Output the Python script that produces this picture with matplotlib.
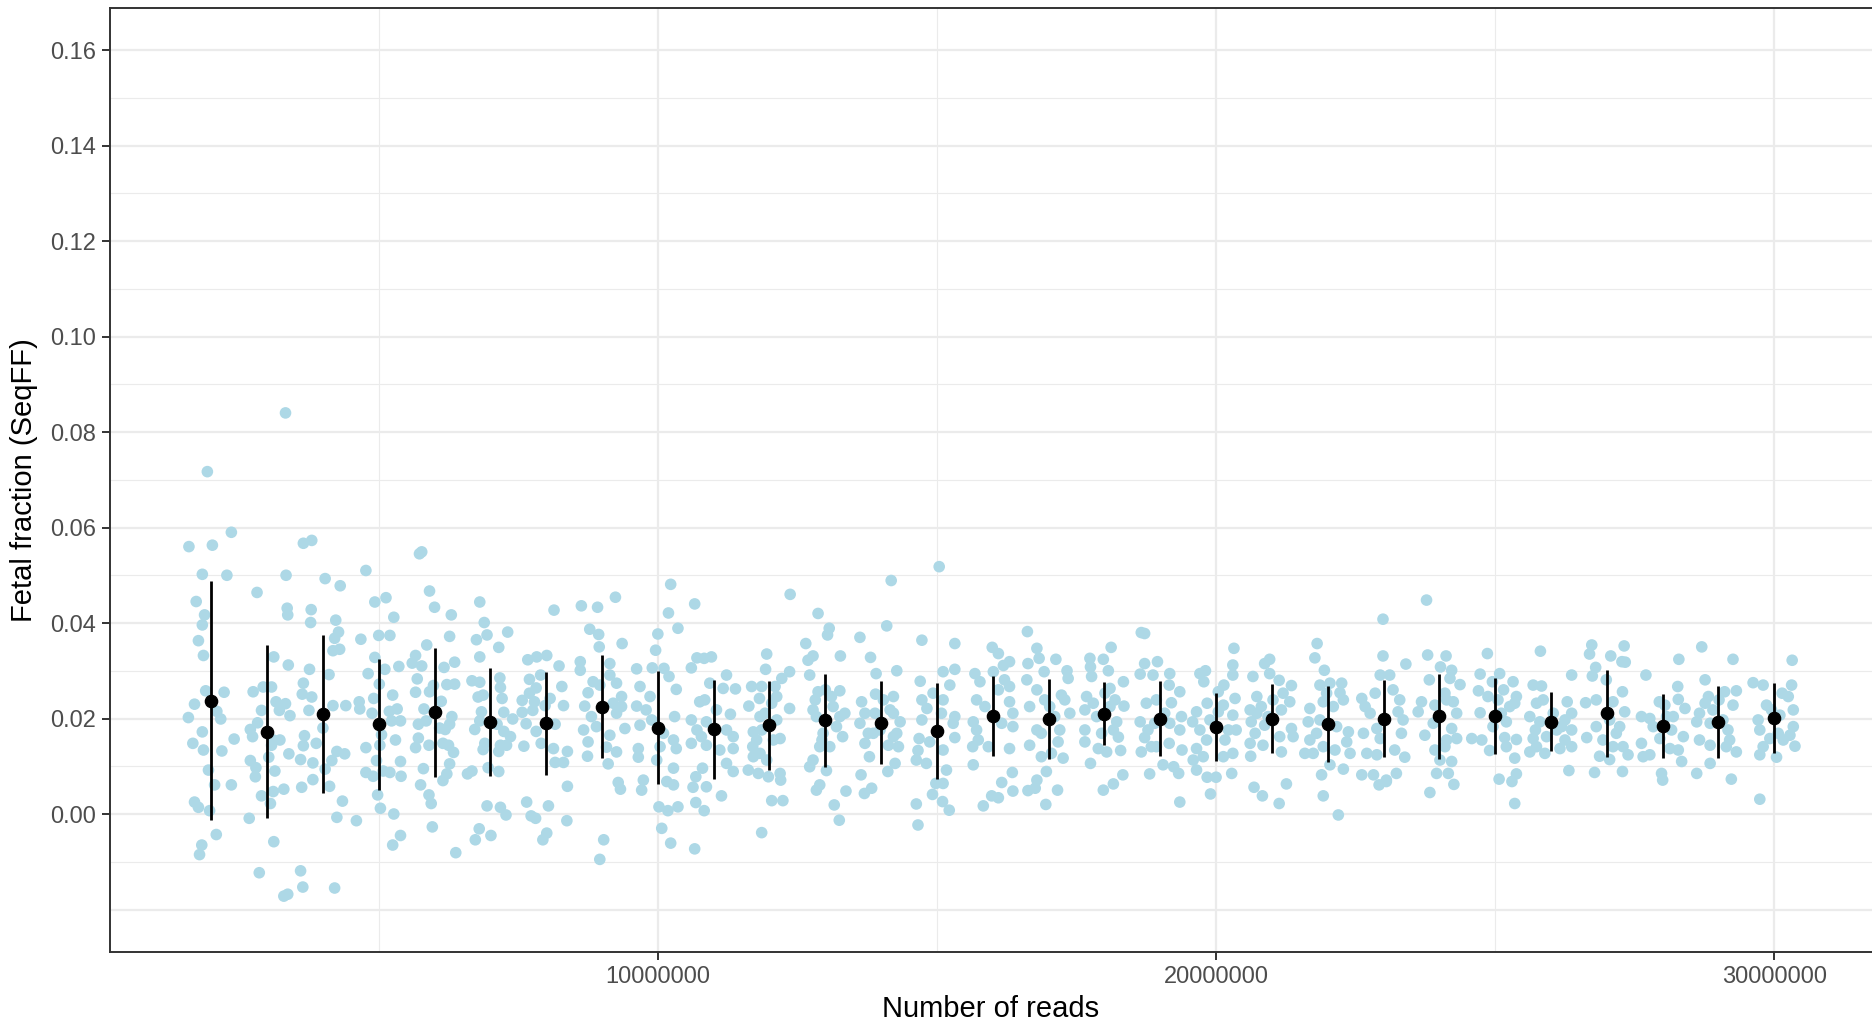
import numpy as np
from matplotlib import pyplot as plt

# Read depth groups (millions of reads)
reads_m = list(range(2, 31))

# Group mean and standard deviation of the fetal fraction
mean_ff = [0.0237, 0.0172, 0.0209, 0.0188, 0.0213, 0.0193, 0.0190, 0.0225, 0.0181, 0.0177,
           0.0186, 0.0196, 0.0191, 0.0174, 0.0205, 0.0199, 0.0210, 0.0200, 0.0182, 0.0200,
           0.0189, 0.0200, 0.0205, 0.0205, 0.0193, 0.0211, 0.0185, 0.0193, 0.0201]
sd_ff = [0.0250, 0.0181, 0.0166, 0.0137, 0.0135, 0.0113, 0.0108, 0.0107, 0.0119, 0.0104,
         0.0093, 0.0098, 0.0087, 0.0100, 0.0084, 0.0084, 0.0066, 0.0078, 0.0071, 0.0073,
         0.0080, 0.0081, 0.0089, 0.0080, 0.0062, 0.0091, 0.0067, 0.0075, 0.0074]

# Individual samples per group: horizontal jitter (millions) and SeqFF value
ff_jitter = [
    [-0.07, -0.40, 0.02, 0.36, -0.16, 0.28, -0.27, -0.12, -0.16, -0.23, -0.14, -0.10, 0.23, -0.30, 0.10, -0.41, 0.17, -0.16, 0.41, -0.33, -0.14, 0.19, -0.05, 0.06, 0.36, -0.30, -0.23, -0.03, 0.09, -0.17, -0.21],
    [0.33, -0.18, 0.34, 0.36, 0.37, 0.12, 0.38, -0.25, -0.07, 0.08, -0.10, 0.16, 0.33, 0.41, 0.22, -0.17, -0.30, -0.26, 0.11, 0.23, 0.08, 0.39, -0.30, -0.20, 0.03, 0.14, -0.21, 0.30, 0.11, -0.10, 0.06, -0.32, 0.12, -0.14, 0.30, 0.37],
    [-0.35, -0.20, 0.04, 0.31, -0.21, -0.22, 0.23, 0.28, 0.21, 0.18, 0.30, -0.24, 0.11, -0.35, -0.37, -0.20, -0.25, 0.18, 0.41, 0.00, -0.33, -0.12, -0.35, 0.25, 0.39, -0.40, -0.18, 0.16, 0.04, -0.18, -0.38, 0.12, 0.35, 0.25, -0.40, -0.36, 0.21],
    [-0.23, -0.07, 0.13, 0.27, -0.32, 0.00, 0.20, -0.07, 0.11, 0.36, -0.19, 0.01, -0.09, 0.25, -0.35, -0.34, 0.19, 0.33, -0.12, 0.23, 0.39, 0.05, 0.30, -0.23, 0.02, -0.04, 0.39, -0.23, -0.10, 0.08, 0.20, 0.40, -0.40, -0.02, 0.03, 0.27, 0.39, 0.25],
    [-0.27, -0.23, -0.09, 0.00, 0.30, 0.27, -0.14, -0.34, -0.40, -0.23, 0.17, 0.36, -0.31, -0.02, 0.22, 0.36, -0.34, -0.09, 0.12, -0.19, -0.15, -0.29, 0.31, 0.09, 0.27, 0.19, -0.29, -0.34, -0.10, 0.15, 0.25, 0.34, 0.27, -0.20, 0.22, 0.15, -0.25, -0.10, -0.06, -0.04, 0.38],
    [-0.19, -0.11, -0.06, 0.31, -0.25, 0.15, -0.19, 0.17, -0.33, -0.19, 0.18, -0.13, -0.22, 0.21, -0.16, 0.24, 0.40, -0.19, 0.12, -0.28, 0.24, 0.36, -0.10, 0.18, -0.13, 0.15, 0.29, -0.41, -0.33, -0.04, 0.15, -0.06, 0.18, 0.28, -0.20, -0.27, 0.01],
    [0.14, -0.33, -0.17, 0.01, 0.23, -0.10, 0.28, -0.30, -0.18, -0.30, -0.43, -0.21, 0.07, 0.31, -0.43, -0.24, -0.02, -0.36, 0.16, -0.18, -0.40, -0.09, 0.13, 0.38, 0.16, 0.31, 0.38, -0.35, 0.04, -0.27, -0.19, 0.01, -0.06, 0.37],
    [-0.37, -0.08, 0.24, -0.22, -0.06, 0.36, -0.05, -0.39, 0.14, -0.39, -0.16, 0.14, 0.26, -0.25, -0.04, 0.35, -0.31, 0.20, 0.35, -0.19, 0.26, 0.41, -0.10, 0.14, -0.33, -0.25, 0.08, 0.26, -0.26, 0.11, 0.29, 0.33, 0.03, -0.04],
    [0.23, 0.19, 0.36, 0.00, -0.04, -0.38, -0.10, 0.11, 0.20, 0.33, -0.32, -0.14, -0.38, -0.21, -0.11, -0.32, 0.30, 0.10, 0.28, 0.04, 0.33, -0.35, -0.35, -0.02, 0.28, -0.26, 0.16, 0.28, -0.29, 0.02, 0.18, 0.36, 0.07, 0.23],
    [-0.34, -0.30, -0.04, -0.17, -0.40, 0.23, -0.07, 0.17, 0.39, -0.25, -0.16, 0.05, 0.30, -0.40, -0.30, -0.13, 0.23, -0.22, 0.35, -0.40, -0.13, 0.11, 0.35, 0.23, 0.35, -0.20, -0.32, -0.13, -0.37, 0.14, -0.32, -0.17, -0.34],
    [-0.05, -0.07, 0.37, 0.36, 0.22, 0.10, -0.32, -0.14, -0.18, -0.37, 0.04, 0.36, -0.17, 0.13, -0.29, -0.14, 0.19, 0.07, -0.30, -0.17, -0.29, -0.38, -0.20, -0.02, 0.19, 0.20, 0.04, 0.24, -0.14, -0.08, -0.23, 0.13, -0.05],
    [-0.13, 0.07, 0.04, -0.35, -0.22, -0.31, 0.27, -0.28, 0.00, -0.13, 0.26, 0.11, -0.22, -0.16, 0.26, 0.20, 0.31, -0.04, -0.10, 0.08, -0.22, -0.28, 0.02, -0.10, -0.16, 0.37, 0.16, 0.25, 0.14, 0.35, -0.06, -0.18],
    [0.18, 0.10, 0.28, -0.38, -0.19, -0.09, -0.10, -0.35, 0.22, -0.29, 0.16, 0.34, -0.38, -0.14, 0.22, -0.29, 0.13, 0.31, -0.21, 0.25, 0.12, -0.36, -0.17, -0.30, 0.04, 0.22, -0.02, -0.23, 0.28, -0.11],
    [0.04, -0.27, 0.32, 0.11, 0.32, -0.30, 0.23, -0.27, -0.07, 0.11, -0.18, 0.08, 0.32, -0.27, 0.29, -0.32, 0.32, -0.13, -0.34, 0.11, -0.37, -0.19, 0.17, -0.02, 0.11, -0.08, 0.10, 0.22, -0.37, -0.34],
    [-0.01, 0.10, 0.30, 0.19, 0.01, -0.32, 0.21, -0.23, 0.30, 0.10, -0.29, 0.30, -0.14, 0.36, -0.35, 0.16, 0.36, -0.29, -0.08, 0.30, -0.35, 0.35, 0.16, 0.36, -0.02, 0.10, -0.17, -0.26, -0.36],
    [-0.38, -0.21, -0.17, 0.13, -0.37, -0.08, 0.33, -0.39, 0.35, -0.21, 0.23, -0.07, -0.34, 0.38, 0.11, -0.21, 0.20, -0.34, 0.17, -0.13, 0.26, 0.05, -0.04, -0.21, -0.37, 0.16, -0.05, -0.24, 0.02, -0.13, 0.29],
    [0.12, -0.26, -0.02, -0.25, 0.07, -0.23, 0.34, 0.10, -0.32, 0.01, 0.19, 0.35, -0.35, -0.14, 0.22, -0.35, 0.16, 0.25, -0.35, -0.11, 0.04, 0.29, -0.25, 0.33, 0.16, -0.02, -0.20, 0.10, -0.05],
    [-0.34, -0.28, -0.28, -0.05, -0.36, -0.13, 0.17, 0.16, -0.07, 0.35, 0.20, -0.25, 0.38, -0.36, 0.17, -0.22, 0.35, -0.28, 0.16, -0.07, -0.34, 0.39, 0.05, 0.24, 0.33, -0.19, 0.35, -0.16, 0.08, -0.10],
    [0.32, -0.19, -0.29, -0.22, 0.30, 0.30, 0.14, 0.04, 0.34, -0.16, 0.13, -0.35, 0.04, 0.30, -0.42, -0.29, 0.36, -0.17, 0.16, -0.35, 0.30, -0.23, 0.13, -0.35, 0.28, -0.16, 0.00, -0.10, -0.41, -0.11, 0.22],
    [-0.34, -0.13, -0.04, -0.04, 0.13, 0.35, -0.27, 0.20, 0.32, -0.39, -0.19, 0.17, -0.37, -0.13, 0.35, -0.30, 0.14, 0.38, -0.39, -0.16, 0.17, -0.38, 0.26, -0.32, -0.17, 0.13, -0.07, -0.27, 0.02],
    [-0.19, -0.23, -0.06, -0.14, 0.04, 0.25, 0.22, -0.32, -0.08, 0.28, 0.10, -0.35, -0.14, 0.16, 0.37, -0.32, -0.08, 0.34, -0.41, 0.13, 0.40, -0.26, 0.04, 0.28, -0.11, -0.08, 0.19, -0.02, -0.20],
    [-0.01, -0.01, -0.06, -0.39, -0.15, -0.33, -0.24, -0.12, -0.36, -0.06, -0.30, -0.12, -0.39, -0.18, -0.08, 0.05, 0.11, 0.40, 0.17, 0.29, 0.35, 0.32, 0.20, 0.38, 0.23, 0.05, 0.26],
    [-0.23, -0.21, 0.12, 0.02, 0.22, -0.18, 0.19, 0.37, 0.10, -0.32, 0.25, -0.38, -0.08, 0.31, -0.11, 0.22, -0.26, 0.31, 0.13, -0.08, 0.10, 0.22, -0.05, 0.16, 0.26, -0.17, 0.01, 0.13],
    [-0.14, -0.27, 0.08, -0.05, 0.32, 0.15, -0.30, 0.38, -0.13, 0.35, -0.27, 0.11, 0.20, -0.42, -0.24, 0.17, 0.38, 0.20, -0.10, 0.35, 0.07, 0.30, 0.38, 0.35, 0.05, -0.04, 0.26],
    [-0.19, -0.32, -0.17, -0.26, -0.14, -0.38, 0.29, 0.37, -0.20, 0.19, 0.37, -0.32, -0.08, 0.25, 0.37, -0.38, -0.11, 0.16, -0.26, 0.32, 0.04, 0.25, 0.10, -0.28, 0.37],
    [-0.27, -0.31, 0.07, 0.31, -0.20, 0.27, 0.33, -0.26, -0.01, 0.28, 0.11, -0.38, 0.32, -0.19, 0.23, -0.36, -0.07, 0.11, 0.29, -0.13, 0.38, 0.05, -0.22, 0.28, 0.05, 0.17, -0.19],
    [0.29, -0.30, 0.27, 0.28, 0.40, -0.06, 0.04, -0.38, -0.23, 0.19, 0.16, -0.05, 0.37, -0.38, 0.13, 0.28, -0.35, -0.23, 0.34, -0.02, 0.00, -0.17, 0.07],
    [-0.30, 0.26, -0.24, 0.32, -0.18, 0.11, 0.26, -0.34, -0.10, -0.39, -0.15, 0.17, -0.34, -0.15, 0.20, 0.32, 0.14, -0.15, -0.39, 0.23, 0.01, -0.24, 0.08],
    [0.32, -0.38, -0.20, 0.31, 0.14, -0.14, 0.25, 0.34, -0.29, 0.10, 0.34, -0.26, 0.07, 0.28, -0.08, 0.37, -0.20, -0.26, 0.04, -0.26, 0.16, -0.05],
]
ff_points = [
    [0.0717, 0.0560, 0.0563, 0.0590, 0.0502, 0.0500, 0.0445, 0.0417, 0.0396, 0.0363, 0.0332, 0.0258, 0.0255, 0.0230, 0.0215, 0.0202, 0.0199, 0.0172, 0.0157, 0.0148, 0.0134, 0.0132, 0.0092, 0.0061, 0.0061, 0.0025, 0.0014, 0.0007, -0.0043, -0.0065, -0.0085],
    [0.0840, 0.0464, 0.0500, 0.0431, 0.0417, 0.0329, 0.0312, 0.0256, 0.0266, 0.0266, 0.0217, 0.0235, 0.0231, 0.0206, 0.0217, 0.0191, 0.0177, 0.0162, 0.0155, 0.0155, 0.0144, 0.0126, 0.0112, 0.0097, 0.0119, 0.0090, 0.0078, 0.0052, 0.0047, 0.0038, 0.0022, -0.0009, -0.0058, -0.0123, -0.0172, -0.0168],
    [0.0567, 0.0573, 0.0493, 0.0478, 0.0428, 0.0401, 0.0406, 0.0381, 0.0368, 0.0342, 0.0345, 0.0303, 0.0292, 0.0274, 0.0251, 0.0245, 0.0217, 0.0227, 0.0227, 0.0180, 0.0164, 0.0148, 0.0143, 0.0131, 0.0126, 0.0114, 0.0107, 0.0112, 0.0094, 0.0072, 0.0056, 0.0058, 0.0027, -0.0007, -0.0119, -0.0153, -0.0155],
    [0.0510, 0.0444, 0.0453, 0.0412, 0.0366, 0.0374, 0.0374, 0.0328, 0.0303, 0.0309, 0.0294, 0.0272, 0.0242, 0.0249, 0.0235, 0.0220, 0.0215, 0.0220, 0.0211, 0.0195, 0.0195, 0.0166, 0.0155, 0.0139, 0.0144, 0.0112, 0.0110, 0.0087, 0.0079, 0.0090, 0.0087, 0.0079, -0.0014, 0.0040, 0.0012, 0.0000, -0.0045, -0.0065],
    [0.0545, 0.0549, 0.0467, 0.0433, 0.0417, 0.0372, 0.0354, 0.0332, 0.0316, 0.0310, 0.0307, 0.0318, 0.0283, 0.0269, 0.0271, 0.0272, 0.0255, 0.0256, 0.0236, 0.0220, 0.0195, 0.0188, 0.0204, 0.0180, 0.0188, 0.0177, 0.0159, 0.0139, 0.0144, 0.0148, 0.0144, 0.0129, 0.0105, 0.0095, 0.0084, 0.0070, 0.0061, 0.0040, 0.0022, -0.0027, -0.0081],
    [0.0444, 0.0401, 0.0375, 0.0381, 0.0365, 0.0349, 0.0329, 0.0285, 0.0279, 0.0276, 0.0265, 0.0249, 0.0245, 0.0242, 0.0214, 0.0213, 0.0199, 0.0195, 0.0188, 0.0177, 0.0173, 0.0162, 0.0148, 0.0144, 0.0135, 0.0131, 0.0144, 0.0084, 0.0090, 0.0097, 0.0089, 0.0017, 0.0014, -0.0002, -0.0031, -0.0054, -0.0045],
    [0.0427, 0.0323, 0.0329, 0.0332, 0.0310, 0.0291, 0.0267, 0.0282, 0.0264, 0.0253, 0.0238, 0.0235, 0.0242, 0.0227, 0.0213, 0.0217, 0.0227, 0.0189, 0.0188, 0.0173, 0.0142, 0.0148, 0.0137, 0.0131, 0.0108, 0.0108, 0.0058, 0.0025, 0.0017, -0.0004, -0.0009, -0.0040, -0.0054, -0.0014],
    [0.0436, 0.0433, 0.0454, 0.0387, 0.0376, 0.0357, 0.0350, 0.0319, 0.0315, 0.0301, 0.0277, 0.0291, 0.0274, 0.0254, 0.0270, 0.0246, 0.0226, 0.0232, 0.0225, 0.0204, 0.0211, 0.0179, 0.0183, 0.0165, 0.0176, 0.0151, 0.0140, 0.0130, 0.0121, 0.0105, 0.0066, 0.0052, -0.0054, -0.0095],
    [0.0481, 0.0421, 0.0389, 0.0377, 0.0343, 0.0304, 0.0306, 0.0305, 0.0288, 0.0261, 0.0267, 0.0246, 0.0226, 0.0218, 0.0197, 0.0186, 0.0204, 0.0169, 0.0155, 0.0141, 0.0137, 0.0137, 0.0119, 0.0113, 0.0096, 0.0071, 0.0068, 0.0061, 0.0050, 0.0015, 0.0007, 0.0015, -0.0030, -0.0061],
    [0.0440, 0.0327, 0.0329, 0.0326, 0.0306, 0.0291, 0.0274, 0.0263, 0.0262, 0.0235, 0.0239, 0.0218, 0.0209, 0.0197, 0.0176, 0.0193, 0.0176, 0.0162, 0.0162, 0.0148, 0.0144, 0.0134, 0.0137, 0.0106, 0.0089, 0.0096, 0.0078, 0.0057, 0.0056, 0.0038, 0.0024, 0.0007, -0.0073],
    [0.0335, 0.0303, 0.0460, 0.0298, 0.0284, 0.0267, 0.0267, 0.0267, 0.0242, 0.0226, 0.0232, 0.0221, 0.0204, 0.0197, 0.0172, 0.0176, 0.0158, 0.0155, 0.0141, 0.0127, 0.0120, 0.0092, 0.0085, 0.0078, 0.0085, 0.0071, 0.0028, 0.0028, -0.0039, 0.0211, 0.0155, 0.0246, 0.0113],
    [0.0420, 0.0389, 0.0375, 0.0357, 0.0331, 0.0322, 0.0331, 0.0291, 0.0260, 0.0256, 0.0258, 0.0246, 0.0218, 0.0204, 0.0204, 0.0183, 0.0162, 0.0169, 0.0141, 0.0141, 0.0113, 0.0099, 0.0091, 0.0061, 0.0050, 0.0048, 0.0019, -0.0013, 0.0225, 0.0211, 0.0155, 0.0239],
    [0.0489, 0.0394, 0.0300, 0.0370, 0.0328, 0.0294, 0.0251, 0.0235, 0.0246, 0.0211, 0.0218, 0.0193, 0.0190, 0.0169, 0.0162, 0.0148, 0.0144, 0.0141, 0.0120, 0.0106, 0.0089, 0.0082, 0.0054, 0.0043, 0.0239, 0.0211, 0.0176, 0.0169, 0.0169, 0.0211],
    [0.0518, 0.0364, 0.0357, 0.0298, 0.0303, 0.0278, 0.0270, 0.0239, 0.0253, 0.0239, 0.0221, 0.0211, 0.0204, 0.0197, 0.0190, 0.0158, 0.0160, 0.0151, 0.0133, 0.0134, 0.0113, 0.0106, 0.0092, 0.0064, 0.0064, 0.0041, 0.0026, 0.0008, 0.0021, -0.0023],
    [0.0349, 0.0336, 0.0319, 0.0311, 0.0298, 0.0294, 0.0281, 0.0277, 0.0267, 0.0260, 0.0239, 0.0235, 0.0225, 0.0211, 0.0193, 0.0190, 0.0183, 0.0176, 0.0141, 0.0137, 0.0103, 0.0087, 0.0066, 0.0048, 0.0038, 0.0034, 0.0017, 0.0155, 0.0141],
    [0.0382, 0.0347, 0.0326, 0.0324, 0.0315, 0.0298, 0.0300, 0.0281, 0.0284, 0.0260, 0.0249, 0.0239, 0.0225, 0.0211, 0.0204, 0.0176, 0.0176, 0.0144, 0.0151, 0.0120, 0.0117, 0.0127, 0.0089, 0.0071, 0.0049, 0.0050, 0.0020, 0.0054, 0.0225, 0.0169, 0.0239],
    [0.0349, 0.0326, 0.0324, 0.0308, 0.0300, 0.0288, 0.0277, 0.0263, 0.0246, 0.0253, 0.0239, 0.0226, 0.0218, 0.0204, 0.0193, 0.0176, 0.0176, 0.0161, 0.0151, 0.0137, 0.0130, 0.0133, 0.0106, 0.0082, 0.0063, 0.0050, 0.0232, 0.0225, 0.0169],
    [0.0380, 0.0378, 0.0315, 0.0319, 0.0293, 0.0291, 0.0294, 0.0270, 0.0239, 0.0256, 0.0233, 0.0232, 0.0204, 0.0193, 0.0190, 0.0176, 0.0176, 0.0160, 0.0148, 0.0141, 0.0130, 0.0134, 0.0103, 0.0099, 0.0085, 0.0084, 0.0025, 0.0141, 0.0211, 0.0190],
    [0.0347, 0.0300, 0.0294, 0.0277, 0.0312, 0.0291, 0.0270, 0.0256, 0.0242, 0.0232, 0.0228, 0.0214, 0.0214, 0.0207, 0.0193, 0.0176, 0.0176, 0.0155, 0.0155, 0.0137, 0.0127, 0.0120, 0.0120, 0.0092, 0.0085, 0.0077, 0.0077, 0.0042, 0.0113, 0.0197, 0.0176],
    [0.0288, 0.0315, 0.0324, 0.0294, 0.0280, 0.0269, 0.0246, 0.0253, 0.0235, 0.0218, 0.0225, 0.0218, 0.0193, 0.0186, 0.0179, 0.0169, 0.0162, 0.0162, 0.0148, 0.0144, 0.0130, 0.0121, 0.0063, 0.0056, 0.0038, 0.0022, 0.0204, 0.0211, 0.0239],
    [0.0357, 0.0327, 0.0301, 0.0270, 0.0274, 0.0274, 0.0254, 0.0221, 0.0235, 0.0239, 0.0225, 0.0193, 0.0197, 0.0183, 0.0172, 0.0155, 0.0141, 0.0151, 0.0127, 0.0134, 0.0127, 0.0127, 0.0103, 0.0094, 0.0082, 0.0038, -0.0002, 0.0253, 0.0169],
    [0.0408, 0.0331, 0.0291, 0.0242, 0.0253, 0.0225, 0.0211, 0.0179, 0.0169, 0.0158, 0.0127, 0.0124, 0.0082, 0.0082, 0.0061, 0.0071, 0.0291, 0.0314, 0.0260, 0.0239, 0.0197, 0.0169, 0.0134, 0.0119, 0.0085, 0.0068, 0.0214],
    [0.0448, 0.0333, 0.0331, 0.0308, 0.0301, 0.0281, 0.0284, 0.0271, 0.0253, 0.0235, 0.0235, 0.0214, 0.0228, 0.0211, 0.0190, 0.0179, 0.0165, 0.0158, 0.0155, 0.0134, 0.0141, 0.0110, 0.0085, 0.0085, 0.0062, 0.0045, 0.0113, 0.0239],
    [0.0336, 0.0293, 0.0294, 0.0277, 0.0277, 0.0260, 0.0258, 0.0246, 0.0246, 0.0232, 0.0212, 0.0211, 0.0193, 0.0158, 0.0155, 0.0160, 0.0156, 0.0141, 0.0133, 0.0117, 0.0073, 0.0068, 0.0084, 0.0022, 0.0239, 0.0183, 0.0225],
    [0.0341, 0.0270, 0.0268, 0.0232, 0.0239, 0.0204, 0.0235, 0.0211, 0.0193, 0.0183, 0.0176, 0.0158, 0.0162, 0.0155, 0.0141, 0.0130, 0.0127, 0.0137, 0.0141, 0.0091, 0.0211, 0.0197, 0.0176, 0.0176, 0.0291],
    [0.0354, 0.0335, 0.0331, 0.0352, 0.0307, 0.0319, 0.0318, 0.0289, 0.0281, 0.0256, 0.0235, 0.0233, 0.0214, 0.0183, 0.0183, 0.0160, 0.0155, 0.0141, 0.0141, 0.0121, 0.0124, 0.0114, 0.0087, 0.0089, 0.0197, 0.0169, 0.0239],
    [0.0324, 0.0291, 0.0267, 0.0240, 0.0221, 0.0235, 0.0228, 0.0204, 0.0200, 0.0204, 0.0176, 0.0158, 0.0162, 0.0148, 0.0137, 0.0134, 0.0120, 0.0124, 0.0110, 0.0085, 0.0071, 0.0183, 0.0204],
    [0.0350, 0.0324, 0.0281, 0.0258, 0.0246, 0.0256, 0.0228, 0.0211, 0.0218, 0.0193, 0.0190, 0.0176, 0.0155, 0.0144, 0.0155, 0.0130, 0.0141, 0.0106, 0.0085, 0.0073, 0.0239, 0.0232, 0.0197],
    [0.0322, 0.0275, 0.0270, 0.0270, 0.0253, 0.0228, 0.0246, 0.0218, 0.0197, 0.0207, 0.0183, 0.0176, 0.0169, 0.0165, 0.0158, 0.0142, 0.0141, 0.0124, 0.0119, 0.0031, 0.0155, 0.0218],
]

x_ticks = [10000000, 20000000, 30000000]
x_minor = [5000000, 15000000, 25000000]
y_ticks = [0.00, 0.02, 0.04, 0.06, 0.08, 0.10, 0.12, 0.14, 0.16]
y_tick_labels = ["0.00", "0.02", "0.04", "0.06", "0.08", "0.10", "0.12", "0.14", "0.16"]

plt.rcParams["font.family"] = ["Liberation Sans", "DejaVu Sans"]

fig = plt.figure(figsize=(18.72, 10.24), dpi=100)
ax = fig.add_axes([110 / 1872, 1 - 952 / 1024, 1762 / 1872, 944 / 1024])

# Grid lines (ggplot theme_bw look)
for v in np.arange(-0.01, 0.165, 0.02):
    ax.axhline(v, color="#EBEBEB", lw=0.8, zorder=0)
for v in [-0.02] + y_ticks:
    ax.axhline(v, color="#EBEBEB", lw=1.6, zorder=0)
for v in x_minor:
    ax.axvline(v, color="#EBEBEB", lw=0.8, zorder=0)
for v in x_ticks:
    ax.axvline(v, color="#EBEBEB", lw=1.6, zorder=0)

# Individual samples
for r, dx, vals in zip(reads_m, ff_jitter, ff_points):
    xs = [(r + d) * 1e6 for d in dx]
    ax.scatter(xs, vals, s=70, color="#ADD8E6", edgecolors="none", zorder=2)

# Mean +/- SD
x_groups = [r * 1e6 for r in reads_m]
ax.errorbar(x_groups, mean_ff, yerr=sd_ff, fmt="none", ecolor="black",
            elinewidth=2.0, capsize=0, zorder=3)
ax.plot(x_groups, mean_ff, "o", color="black", markersize=8.8, zorder=4)

ax.set_xlim(0.186e6, 31.75e6)
ax.set_ylim(-0.0289, 0.1688)
ax.set_xticks(x_ticks)
ax.set_xticklabels([str(t) for t in x_ticks])
ax.set_yticks(y_ticks)
ax.set_yticklabels(y_tick_labels)
ax.tick_params(axis="both", length=5.8, width=1.4, color="#333333",
               labelcolor="#4D4D4D", labelsize=17, pad=4)

for side in ["left", "bottom", "top"]:
    ax.spines[side].set_color("#333333")
    ax.spines[side].set_linewidth(1.4)
ax.spines["right"].set_visible(False)

ax.set_xlabel("Number of reads", fontsize=21, labelpad=5)
ax.set_ylabel("Fetal fraction (SeqFF)", fontsize=21, labelpad=9)

fig.savefig("out.png", dpi=100)
